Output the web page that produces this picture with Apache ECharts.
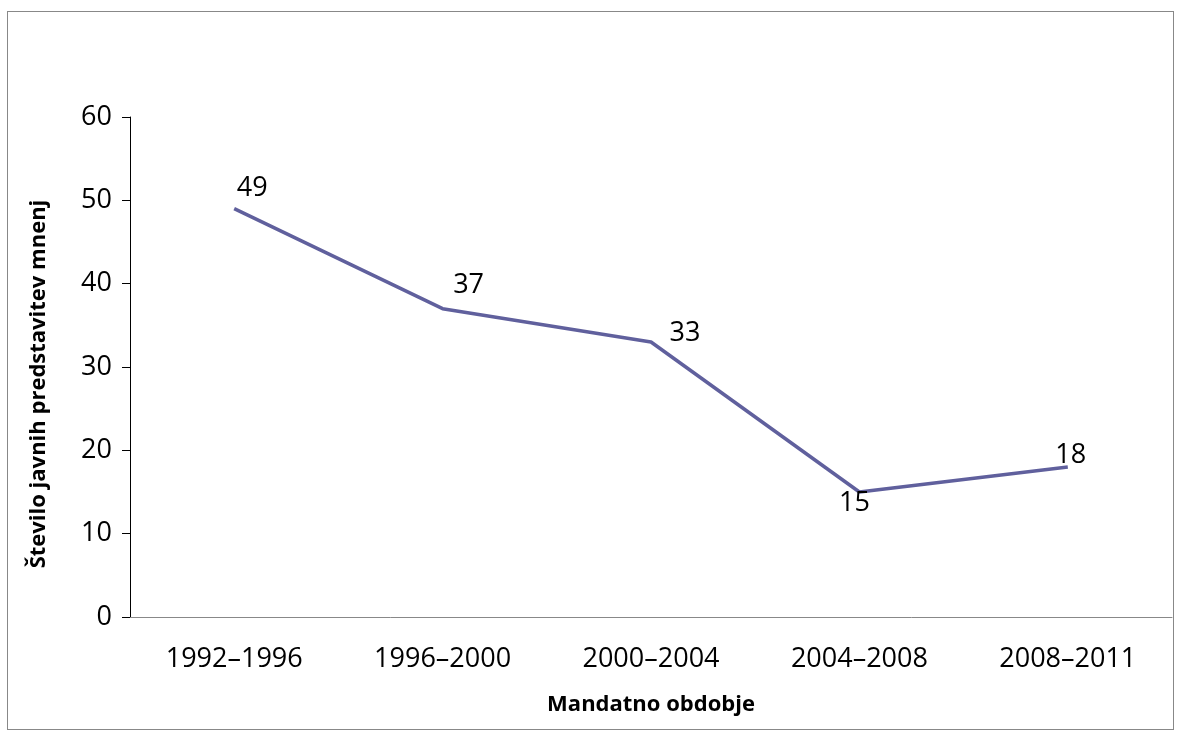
<!DOCTYPE html>
<html lang="sl">
<head>
	<meta charset="utf-8">
	<title>Število javnih predstavitev mnenj</title>
	<script src="https://cdn.jsdelivr.net/npm/echarts@6/dist/echarts.min.js"></script>
	<style>
		html, body { margin: 0; padding: 0; background: #fff; }
		#frame { position: absolute; left: 7px; top: 11px; width: 1167px; height: 719px; border: 1px solid #888; box-sizing: border-box; }
		#chart { position: absolute; left: 0; top: 0; width: 1182px; height: 738px; }
	</style>
</head>
<body>
<div id="frame"></div>
<div id="chart"></div>
<script>
// podatki
var obdobja = ['1992–1996', '1996–2000', '2000–2004', '2004–2008', '2008–2011'];
var predstavitve = [49, 37, 33, 15, 18];
var yTicks = [0, 10, 20, 30, 40, 50, 60];

// zamik oznak glede na točko
var labelOffsets = [[18, -20], [26, -23], [34, -9], [-5, 11], [3, -12]];

var font = '"Open Sans", "Noto Sans", sans-serif';

echarts.init(document.getElementById('chart')).setOption({
	animation: false,
	grid: { left: 130, right: 10, top: 117, bottom: 121 },
	xAxis: {
		type: 'category',
		data: obdobja,
		boundaryGap: true,
		name: 'Mandatno obdobje',
		nameLocation: 'middle',
		nameGap: 77,
		nameTextStyle: { fontFamily: font, fontWeight: 'bold', fontSize: 22, color: '#000' },
		axisLine: { lineStyle: { color: '#888', width: 1 } },
		axisTick: { alignWithLabel: false, length: 8, lineStyle: { color: '#888' } },
		axisLabel: { margin: 29, fontFamily: font, fontSize: 27, color: '#000' }
	},
	yAxis: {
		type: 'value',
		min: yTicks[0],
		max: yTicks[yTicks.length - 1],
		interval: 10,
		name: 'Število javnih predstavitev mnenj',
		nameLocation: 'middle',
		nameGap: 80,
		nameTextStyle: { fontFamily: font, fontWeight: 'bold', fontSize: 22, color: '#000', padding: [0, 34, 0, 0] },
		splitLine: { show: false },
		axisLine: { show: true, lineStyle: { color: '#000', width: 1 } },
		axisTick: { show: true, length: 8, lineStyle: { color: '#000' } },
		axisLabel: { margin: 18, fontFamily: font, fontSize: 27, color: '#000' }
	},
	series: [{
		type: 'line',
		data: predstavitve.map(function (v, i) {
			return { value: v, label: { offset: labelOffsets[i] } };
		}),
		symbol: 'circle',
		symbolSize: 0,
		showSymbol: true,
		lineStyle: { color: '#60609d', width: 3.5 },
		itemStyle: { color: '#60609d' },
		label: {
			show: true,
			position: 'inside',
			fontFamily: font,
			fontSize: 27,
			color: '#000'
		}
	}]
});
</script>
</body>
</html>
